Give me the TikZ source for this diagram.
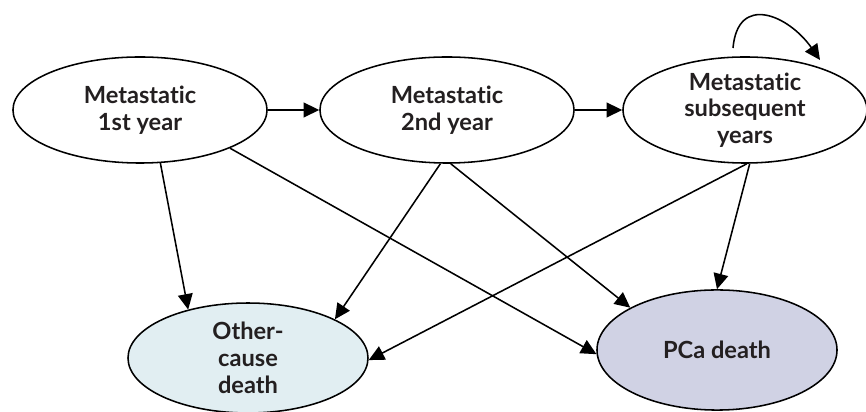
\documentclass[tikz,border=0pt]{standalone}
\usepackage{fontspec}
\setmainfont{Lato}[Ligatures=NoCommon]
\usetikzlibrary{shapes.geometric,arrows.meta}
\definecolor{txtgray}{HTML}{231F20}
\definecolor{othfill}{HTML}{E1EEF2}
\definecolor{pcafill}{HTML}{D0D2E4}
\begin{document}
\begin{tikzpicture}[x=0.025cm, y=0.025cm,
  st/.style={ellipse, draw, line width=1.1pt, inner sep=0pt, align=center,
    text=txtgray, font=\fontsize{16.8}{19}\selectfont\bfseries},
  arr/.style={line width=1.1pt, -{Triangle[length=11pt, width=10.5pt]}}]
\useasboundingbox (0,0) rectangle (866,412);
% px -> pt: 1px = 0.7113pt
\node[st, minimum width=180.7pt, minimum height=75.4pt] (met1) at (140,302){Metastatic\\1st year};
\node[st, minimum width=180.7pt, minimum height=75.4pt] (met2) at (447,302){Metastatic\\2nd year};
\node[st, minimum width=173.6pt, minimum height=75.4pt] (met3) at (745,302){Metastatic\\subsequent\\years};
\node[st, fill=othfill, minimum width=170.7pt, minimum height=78.2pt] (oth) at (248,54){Other-\\cause\\death};
\node[st, fill=pcafill, minimum width=170.7pt, minimum height=85.4pt] (pca) at (717,62){PCa death};
\draw[arr](met1) -- (met2);
\draw[arr](met2) -- (met3);
\draw[arr](met1.-69) -- (oth.141);
\draw[arr](met1.-23) -- (pca.182);
\draw[arr](met2.-97) -- (oth.24);
\draw[arr](met2.-86) -- (pca.154);
\draw[arr](met3.-88) -- (oth.-1);
\draw[arr](met3.-85) -- (pca.north);
\coordinate (loopS) at ([shift={(-12,62)}]met3.center);
\coordinate (loopE) at ([shift={(75,50)}]met3.center);
\draw[arr](loopS) to[out=85, in=125, looseness=1.6] (loopE);
\end{tikzpicture}
\end{document}
